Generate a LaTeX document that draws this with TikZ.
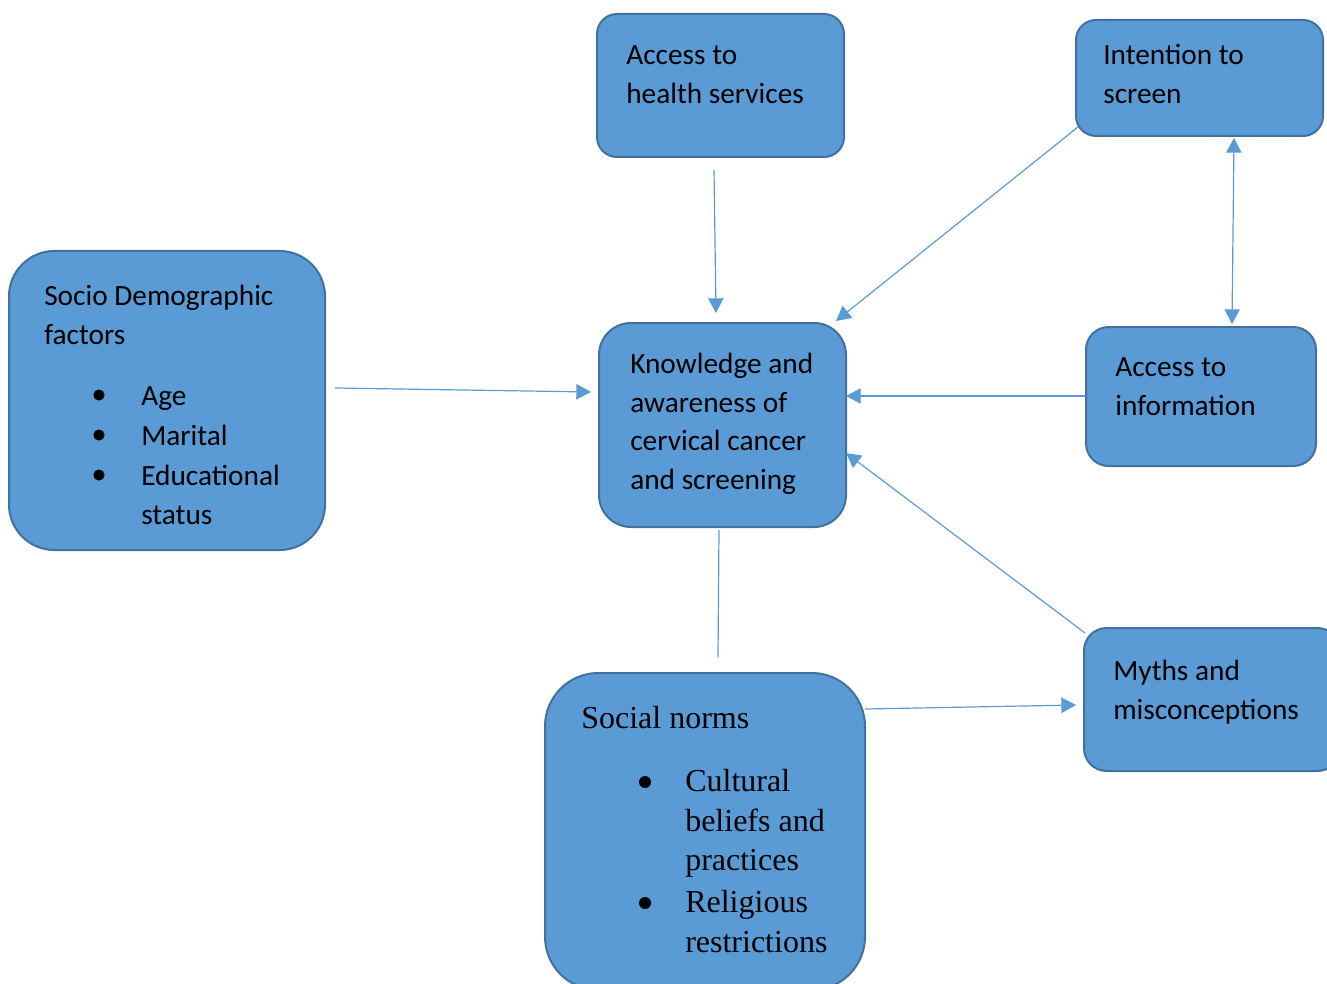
\documentclass[tikz,border=0pt]{standalone}
\usepackage{fontspec}
\setmainfont{Carlito}
\newfontfamily\tnr{Liberation Serif}
\usetikzlibrary{arrows.meta,calc}
\definecolor{boxfill}{HTML}{5B9BD5}
\definecolor{boxline}{HTML}{41719C}
\definecolor{conn}{HTML}{5B9BD5}
\tikzset{
  box/.style={draw=boxline, fill=boxfill, line width=1.5pt, inner sep=0pt, outer sep=0pt},
  txt/.style={anchor=base west, inner sep=0pt, font=\fontsize{22pt}{29pt}\selectfont},
  ttxt/.style={anchor=base west, inner sep=0pt, font=\tnr\fontsize{24pt}{30pt}\selectfont},
  conline/.style={draw=conn, line width=0.9pt},
  arr/.style={conline, -{Triangle[length=11pt,width=11.5pt]}},
  darr/.style={conline, {Triangle[length=11pt,width=11.5pt]}-{Triangle[length=11pt,width=11.5pt]}},
  bul/.style={fill=black}
}
\begin{document}
\begin{tikzpicture}[x=0.75pt,y=-0.75pt]
\useasboundingbox (0,0) rectangle (1327,984);
% boxes
\node[box, rounded corners=15pt, minimum width=247*0.75pt, minimum height=143*0.75pt] (hs) at (720.5,85.5) {};
\node[box, rounded corners=15pt, minimum width=247*0.75pt, minimum height=116*0.75pt] (it) at (1199.5,78) {};
\node[box, rounded corners=34pt, minimum width=316*0.75pt, minimum height=299*0.75pt] (sd) at (167,400.5) {};
\node[box, rounded corners=24pt, minimum width=247*0.75pt, minimum height=204*0.75pt] (kn) at (722.5,425) {};
\node[box, rounded corners=17pt, minimum width=230*0.75pt, minimum height=139*0.75pt] (ai) at (1201,396.5) {};
\node[box, rounded corners=17pt, minimum width=256*0.75pt, minimum height=143*0.75pt] (my) at (1212,699.5) {};
\node[box, rounded corners=40pt, minimum width=320*0.75pt, minimum height=317*0.75pt] (sn) at (705,831.5) {};
% texts
\node[txt] (hs1) at (626,65) {Access to};
\node[txt] (hs2) at (626,104) {health services};
\node[txt] (it1) at (1103,65) {Intention to};
\node[txt] (it2) at (1103,104) {screen};
\node[txt] (sd1) at (44,305) {Socio Demographic};
\node[txt] (sd2) at (44,344) {factors};
\node[txt] (sd3) at (141,405) {Age};
\node[txt] (sd4) at (141,445) {Marital};
\node[txt] (sd5) at (141,485) {Educational};
\node[txt] (sd6) at (141,524) {status};
\fill[bul] (99,395) circle (4.2pt);
\fill[bul] (99,435) circle (4.2pt);
\fill[bul] (99,475) circle (4.2pt);
\node[txt] (kn1) at (630,373) {Knowledge and};
\node[txt] (kn2) at (630,412) {awareness of};
\node[txt] (kn3) at (630,450) {cervical cancer};
\node[txt] (kn4) at (630,489) {and screening};
\node[txt] (ai1) at (1115,376) {Access to};
\node[txt] (ai2) at (1115,415) {information};
\node[txt] (my1) at (1113,680) {Myths and};
\node[txt] (my2) at (1113,719) {misconceptions};
\node[ttxt] (sn1) at (581,728) {Social norms};
\node[ttxt] (sn2) at (685,791) {Cultural};
\node[ttxt] (sn3) at (685,831) {beliefs and};
\node[ttxt] (sn4) at (685,870) {practices};
\node[ttxt] (sn5) at (685,912) {Religious};
\node[ttxt] (sn6) at (685,952) {restrictions};
\fill[bul] (645,782) circle (4.5pt);
\fill[bul] (645,903) circle (4.5pt);
% connectors
\draw[arr] ($(hs.south)+(-6.5,13)$) -- ($(kn.north)+(-6.5,-10)$);
\draw[arr] ($(it.south west)+(2,-9)$) -- ($(kn.north east)+(-10,-2)$);
\draw[darr] ($(it.south)+(34.5,2)$) -- ($(ai.north)+(31,-3)$);
\draw[arr] ($(ai.west)+(0,-0.5)$) -- ($(kn.east)+(0,-29)$);
\draw[arr] ($(my.north west)+(1,5)$) -- ($(kn.east)+(0,28)$);
\draw[arr] ($(sd.east)+(10,-12.5)$) -- ($(kn.west)+(-8,-33)$);
\draw[conline] ($(kn.south)+(-3.5,3)$) -- ($(sn.north)+(13,-16)$);
\draw[arr] ($(sn.east)+(0,-122.5)$) -- ($(my.west)+(-8,5.5)$);
\end{tikzpicture}
\end{document}
